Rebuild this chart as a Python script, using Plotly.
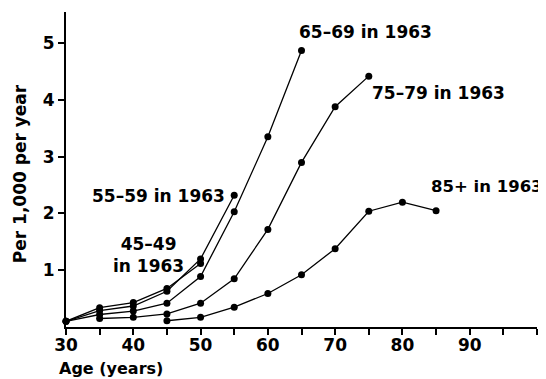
import plotly.graph_objects as go

# Data (age in years, rate per 1,000 per year), by cohort
ages_45_49 = [30, 35, 40, 45, 50]
rate_45_49 = [0.10, 0.34, 0.43, 0.68, 1.12]

ages_55_59 = [30, 35, 40, 45, 50, 55]
rate_55_59 = [0.10, 0.29, 0.37, 0.63, 1.20, 2.32]

ages_65_69 = [30, 35, 40, 45, 50, 55, 60, 65]
rate_65_69 = [0.10, 0.22, 0.28, 0.42, 0.89, 2.03, 3.35, 4.87]

ages_75_79 = [35, 40, 45, 50, 55, 60, 65, 70, 75]
rate_75_79 = [0.15, 0.17, 0.23, 0.42, 0.85, 1.72, 2.90, 3.88, 4.42]

ages_85p = [45, 50, 55, 60, 65, 70, 75, 80, 85]
rate_85p = [0.11, 0.17, 0.35, 0.59, 0.92, 1.38, 2.04, 2.20, 2.05]

x_ticks = list(range(30, 101, 5))
x_ticklabels = [str(v) if (v % 10 == 0 and v <= 90) else "" for v in x_ticks]
y_ticks = [1, 2, 3, 4, 5]
y_ticklabels = ["1", "2", "3", "4", "5"]

series = [
    (ages_45_49, rate_45_49),
    (ages_55_59, rate_55_59),
    (ages_65_69, rate_65_69),
    (ages_75_79, rate_75_79),
    (ages_85p, rate_85p),
]

FONT = "DejaVu Sans"
fig = go.Figure()
for xs, ys in series:
    fig.add_trace(go.Scatter(
        x=xs, y=ys, mode="lines+markers",
        line=dict(color="black", width=1.3),
        marker=dict(color="black", size=7),
        showlegend=False, hoverinfo="skip", cliponaxis=False,
    ))

lab_font = dict(family=FONT, size=17, color="black", weight="bold")
fig.add_annotation(x=64.3, y=5.19, text="65–69 in 1963", showarrow=False,
                   xanchor="left", yanchor="middle", font=lab_font)
fig.add_annotation(x=75.2, y=4.13, text="75–79 in 1963", showarrow=False,
                   xanchor="left", yanchor="middle", font=lab_font)
fig.add_annotation(x=84.0, y=2.47, text="85+ in 1963", showarrow=False,
                   xanchor="left", yanchor="middle",
                   font=dict(family=FONT, size=16.5, color="black", weight="bold"))
fig.add_annotation(x=53.9, y=2.30, text="55–59 in 1963", showarrow=False,
                   xanchor="right", yanchor="middle", font=lab_font)
fig.add_annotation(x=42.2, y=1.26, text="45–49<br>in 1963", showarrow=False,
                   xanchor="center", yanchor="middle", align="center", font=lab_font)

# axis titles
fig.add_annotation(xref="paper", yref="paper", x=-0.019, y=-0.132,
                   text="Age (years)", showarrow=False, xanchor="left",
                   yanchor="middle", font=dict(family=FONT, size=16, color="black", weight="bold"))
fig.add_annotation(xref="paper", yref="paper", x=-0.097, y=0.486,
                   text="Per 1,000 per year", showarrow=False, textangle=-90,
                   xanchor="center", yanchor="middle",
                   font=dict(family=FONT, size=17, color="black", weight="bold"))

fig.update_xaxes(
    range=[30, 100], tickvals=x_ticks, ticktext=x_ticklabels,
    ticks="outside", ticklen=6, tickwidth=2, tickcolor="black",
    ticklabelstandoff=-4,
    showline=True, linecolor="black", linewidth=2, showgrid=False, zeroline=False,
    tickfont=dict(family=FONT, size=17, color="black", weight="bold"),
)
fig.update_yaxes(
    range=[0, 5.55], tickvals=y_ticks, ticktext=y_ticklabels,
    ticks="outside", ticklen=6, tickwidth=2, tickcolor="black",
    showline=True, linecolor="black", linewidth=2, showgrid=False, zeroline=False,
    tickfont=dict(family=FONT, size=17, color="black", weight="bold"),
)
fig.update_layout(
    width=538, height=371,
    margin=dict(l=58, r=9, t=4, b=52),
    plot_bgcolor="white", paper_bgcolor="white",
)
fig.write_html("out.html")
